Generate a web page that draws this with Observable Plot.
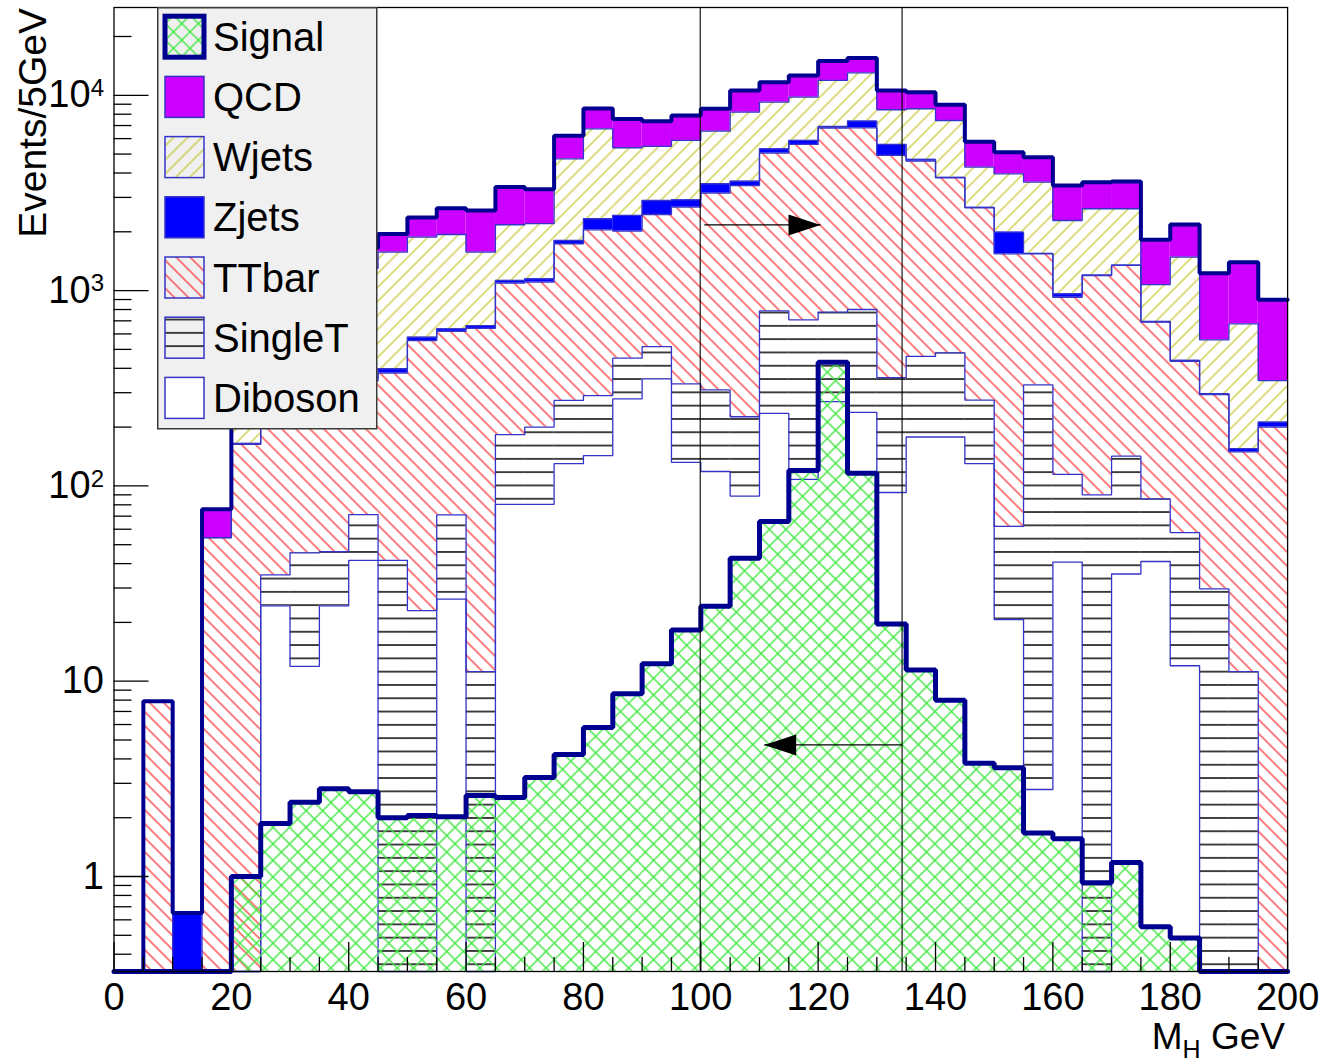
<!DOCTYPE html>
<html><head><meta charset="utf-8">
<script src="https://cdn.jsdelivr.net/npm/d3@7"></script>
<script src="https://cdn.jsdelivr.net/npm/@observablehq/plot@0.6"></script>
<style>
body{margin:0;background:#fff;font-family:"Liberation Sans",Arial,sans-serif;}
#wrap{position:relative;width:1323px;height:1062px;overflow:hidden;background:#fff;}
#legend{position:absolute;left:157px;top:7px;}
</style></head><body>
<svg width="0" height="0" style="position:absolute"><defs>
<pattern id="pTT" patternUnits="userSpaceOnUse" width="9.9" height="9.9" patternTransform="rotate(-45)"><line x1="4.95" y1="-1" x2="4.95" y2="11" stroke="#ff3030" stroke-width="1.3"/></pattern>
<pattern id="pW" patternUnits="userSpaceOnUse" width="9.9" height="9.9" patternTransform="rotate(45)"><line x1="4.95" y1="-1" x2="4.95" y2="11" stroke="#c8c830" stroke-width="1.3"/></pattern>
<pattern id="pSig" patternUnits="userSpaceOnUse" width="11.7" height="11.7" patternTransform="rotate(45)"><line x1="5.85" y1="-1" x2="5.85" y2="12.7" stroke="#40e840" stroke-width="1.4"/><line x1="-1" y1="5.85" x2="12.7" y2="5.85" stroke="#40e840" stroke-width="1.4"/></pattern>
<pattern id="pST" patternUnits="userSpaceOnUse" width="20" height="13.3"><line x1="-1" y1="6.65" x2="21" y2="6.65" stroke="#151515" stroke-width="1.6"/></pattern>
</defs></svg>
<div id="wrap"></div>
<script>
// ---- data ----
const binLow = [0,5,10,15,20,25,30,35,40,45,50,55,60,65,70,75,80,85,90,95,100,105,110,115,120,125,130,135,140,145,150,155,160,165,170,175,180,185,190,195];
const binWidth = 5;
const diboson = [0,0,0,0,0,24.3,11.9,24.3,41.6,0,0,26.3,0,80.5,80.5,130,143,279,353,132,118.5,88.7,235,108,270,238,92.5,178,178,130,20.7,2.79,40.7,0,35.4,41,12,0,0,0];
const singleT = [0,0,0,0,0,10.7,33.5,21.7,29.7,41.6,23,44.7,11.2,102.5,119.5,144,147,172,164,201,191.5,137.3,552,600,505,562,265.5,282,302,145,41.3,326,73.9,90,106.6,44.8,45.7,29.7,11.2,0];
const ttbar = [0,7.9,0,54.4,163,195,234.6,264,273.7,336.4,532,547,628.8,908,905,1463,1758,1564,1936,2340,2844,3224,4268,4892,6025,6010,4562,4140,3303,2379,1480,1213,810,1105,1203,603,377,264,138,200];
const zjets = [0,0,0.65,0,2,5,8,10,15,20,22,19,22,36,44,68,285,410,440,243,370,180,265,273,120,570,680,100,17,16,449,8,38,5,5,6,5,3,6,12];
const wjets = [0,0,0,0,335,515,662,780,940,1175,1300,1300,911,1046,1051,2925,4400,2961,2577,2957,3026,4560,3900,3907,4990,5650,2830,3830,3630,1615,1971,2040,1323,1424,1274,379,1043,263,521,134];
const qcd = [0,0,0,21.6,200,250,300,350,350,377,490,705,997,1220,1100,1470,1837,2164,1900,2007,1980,2400,2450,2840,3050,2500,2160,1840,1510,1495,1152,1230,1166,966,996,746,697,668,721,551];
const signal = [0,0,0,0,1.0,1.87,2.4,2.81,2.72,2.0,2.05,2.02,2.6,2.54,3.21,4.21,5.79,8.63,12.3,18.3,24.2,42.6,65.7,120,430,116,19.6,11.4,8.0,3.8,3.6,1.67,1.56,0.93,1.18,0.553,0.485,0,0,0];

const xTicks = [0,20,40,60,80,100,120,140,160,180,200];
const yTicks = [1,10,100,1000,10000];
const yTickLabels = ["1","10","10^2","10^3","10^4"];
const cutLines = [99.9,134.3];
const arrowX1 = [100.6,134.3];
const arrowX2 = [120.4,110.8];
const arrowY = [2170,4.72];
const legendNames = ["Signal","QCD","Wjets","Zjets","TTbar","SingleT","Diboson"];

// ---- styles ----
const fills = ["#ffffff","url(#pST)","url(#pTT)","#0000ff","url(#pW)","#cc00ff"];
const thinBlue = "#3434c8", navy = "#000090";
const FONT = '"Liberation Sans", Arial, sans-serif';

const W = 1323, H = 1062, mL = 113.5, mR = 35.9, mT = 7, mB = 91;
const plotW = W - mL - mR, plotH = H - mT - mB;
const yLo = 0.3263, yHi = 28150;
const cl = v => Math.max(v, yLo);

// stacking
const comps = [diboson, singleT, ttbar, zjets, wjets, qcd];
const cum = [];
comps.forEach((c,k) => cum.push(c.map((v,i) => v + (k ? cum[k-1][i] : 0))));
const rectRows = comps.map((c,k) => binLow.map((x,i) => ({x1:x, x2:x+binWidth, y1:cl(k?cum[k-1][i]:0), y2:cl(cum[k][i])})).filter(r => r.y2 > r.y1));
const stepPts = arr => binLow.flatMap((x,i) => [{x:x, y:cl(arr[i])},{x:x+binWidth, y:cl(arr[i])}]);
const sigRows = binLow.map((x,i)=>({x1:x,x2:x+binWidth,y1:yLo,y2:cl(signal[i])})).filter(r=>r.y2>r.y1);
const arrows = arrowX1.map((x1,i)=>({x1, x2:arrowX2[i], y:arrowY[i]}));

const headR = {draw(ctx){ctx.moveTo(0,0);ctx.lineTo(-32,-10.5);ctx.lineTo(-32,10.5);ctx.closePath();}};
const headL = {draw(ctx){ctx.moveTo(0,0);ctx.lineTo(32,-10.5);ctx.lineTo(32,10.5);ctx.closePath();}};

const yMinor = [];
[-1,0,1,2,3,4].forEach(e => {for (let k=2;k<=9;k++){const v=k*Math.pow(10,e); if(v>=yLo && v<=yHi) yMinor.push(v);}});
const xMinor = binLow.filter(x => x % 20 !== 0);

const marks = [];
rectRows.forEach((rows,k) => marks.push(Plot.rect(rows,{x1:"x1",x2:"x2",y1:"y1",y2:"y2",fill:fills[k]})));
cum.slice(0,5).forEach(arr => marks.push(Plot.line(stepPts(arr),{x:"x",y:"y",stroke:thinBlue,strokeWidth:1.3,strokeLinejoin:"miter"})));
marks.push(Plot.line(stepPts(cum[5]),{x:"x",y:"y",stroke:navy,strokeWidth:4,strokeLinejoin:"miter"}));
marks.push(Plot.rect(sigRows,{x1:"x1",x2:"x2",y1:"y1",y2:"y2",fill:"url(#pSig)"}));
marks.push(Plot.line(stepPts(signal),{x:"x",y:"y",stroke:navy,strokeWidth:5,strokeLinejoin:"miter"}));
marks.push(Plot.ruleX(cutLines,{stroke:"black",strokeWidth:1.1}));
marks.push(Plot.link(arrows,{x1:"x1",x2:"x2",y1:"y",y2:"y",stroke:"black",strokeWidth:1.1}));
marks.push(Plot.dot([arrows[0]],{x:"x2",y:"y",symbol:headR,fill:"black",stroke:"none"}));
marks.push(Plot.dot([arrows[1]],{x:"x2",y:"y",symbol:headL,fill:"black",stroke:"none"}));
marks.push(Plot.ruleY(yTicks,{insetRight:plotW-35,stroke:"black",strokeWidth:1.3}));
marks.push(Plot.ruleY(yMinor,{insetRight:plotW-18,stroke:"black",strokeWidth:1.3}));
marks.push(Plot.ruleX(xTicks,{insetTop:plotH-29,stroke:"black",strokeWidth:1.3}));
marks.push(Plot.ruleX(xMinor,{insetTop:plotH-14,stroke:"black",strokeWidth:1.3}));
marks.push(Plot.frame({stroke:"black",strokeWidth:1.3}));
marks.push(Plot.axisX({ticks:xTicks,tickSize:0,tickPadding:12,label:null,tickFormat:d=>String(d)}));
marks.push(Plot.axisY({ticks:yTicks,tickSize:0,tickPadding:10,label:null,tickFormat:d=>yTickLabels[yTicks.indexOf(d)]}));

const plot = Plot.plot({
  width:W, height:H, marginLeft:mL, marginRight:mR, marginTop:mT, marginBottom:mB,
  style:{fontFamily:FONT, fontSize:"38px", background:"white", color:"black", overflow:"visible"},
  x:{domain:[0,200]},
  y:{type:"log", domain:[yLo,yHi]},
  marks
});
document.getElementById("wrap").appendChild(plot);

// superscripts on y tick labels
d3.select(plot).selectAll('g[aria-label="y-axis tick label"] text').each(function(){
  const t = this.textContent;
  if (t.includes("^")) {
    const [b,e] = t.split("^");
    const s = d3.select(this); s.text(null);
    s.append("tspan").text(b);
    s.append("tspan").attr("dy","-0.48em").attr("font-size","24px").text(e);
  }
});
// axis titles
const svg = d3.select(plot);
svg.append("text").attr("transform","translate(46,8) rotate(-90)").attr("text-anchor","end")
  .attr("font-size","39px").attr("font-family",FONT).attr("fill","black").text("Events/5GeV");
const xt = svg.append("text").attr("x",1285).attr("y",1049).attr("text-anchor","end")
  .attr("font-size","37px").attr("font-family",FONT).attr("fill","black");
xt.append("tspan").text("M");
xt.append("tspan").attr("dy","9").attr("font-size","25px").text("H");
xt.append("tspan").attr("dy","-9").text(" GeV");

// legend
const lw = 219, lh = 421;
const leg = d3.select("#wrap").append("svg").attr("id","legend").attr("width",lw+2).attr("height",lh+2);
leg.append("rect").attr("x",0.75).attr("y",0.75).attr("width",lw).attr("height",lh).attr("fill","#f0f0f0").attr("stroke","#3a3a3a").attr("stroke-width",1.5);
const swFill = ["url(#pSig)","#cc00ff","url(#pW)","#0000ff","url(#pTT)","url(#pST)","#ffffff"];
legendNames.forEach((name,i) => {
  const cy = 29.7 + i*60.2;
  leg.append("rect").attr("x",8).attr("y",cy-20.5).attr("width",39).attr("height",41)
    .attr("fill",swFill[i]).attr("stroke", i===0?navy:thinBlue).attr("stroke-width", i===0?5:1.5);
  leg.append("text").attr("x",56).attr("y",cy+14).attr("font-size","40px")
    .attr("font-family",FONT).attr("fill","black").text(name);
});
</script></body></html>
